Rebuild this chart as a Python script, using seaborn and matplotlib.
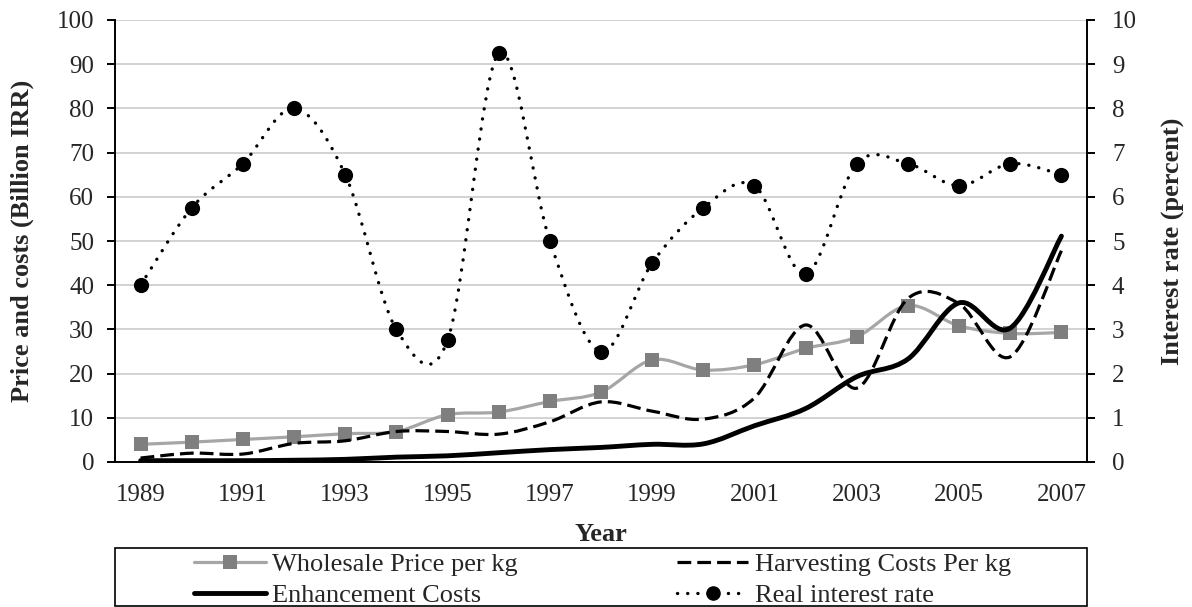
import numpy as np
import pandas as pd
import seaborn as sns
import matplotlib.pyplot as plt
from matplotlib.path import Path
from matplotlib.patches import PathPatch, Rectangle
from matplotlib.lines import Line2D

# data
years = [str(y) for y in range(1989, 2008)]
wholesale = [4.0, 4.5, 5.1, 5.7, 6.4, 6.9, 10.7, 11.3, 13.7, 15.8, 23.1, 20.8, 22.0, 25.7, 28.3, 35.4, 30.8, 29.1, 29.3]
harvest = [0.9, 2.0, 1.8, 4.2, 4.8, 6.9, 6.9, 6.3, 9.1, 13.6, 11.5, 9.7, 14.5, 31.0, 16.7, 37.0, 35.8, 23.8, 47.8]
enhance = [0.3, 0.3, 0.3, 0.4, 0.6, 1.1, 1.4, 2.1, 2.8, 3.3, 4.0, 4.1, 8.2, 12.1, 19.3, 23.3, 36.0, 30.3, 51.1]
interest = [4.0, 5.75, 6.75, 8.0, 6.5, 3.0, 2.75, 9.25, 5.0, 2.5, 4.5, 5.75, 6.25, 4.25, 6.75, 6.75, 6.25, 6.75, 6.5]

df = pd.DataFrame({'pos': np.arange(len(years)), 'year': years,
                   'wholesale': wholesale, 'harvest': harvest,
                   'enhance': enhance, 'interest': interest})

sns.set_style("white")
plt.rcParams['font.family'] = ['Liberation Serif', 'DejaVu Serif']
FS = 18      # tick labels
FS_LEG = 19  # legend
FS_LAB = 19  # axis titles


def smooth_path(xs, ys):
    # Excel style "smoothed line": cubic bezier segments through each point
    xs = list(xs)
    ys = list(ys)
    n = len(xs)
    verts = [(xs[0], ys[0])]
    codes = [Path.MOVETO]
    for i in range(n - 1):
        a = max(i - 1, 0)
        b = min(i + 2, n - 1)
        c1 = (xs[i] + (xs[i + 1] - xs[a]) / 6, ys[i] + (ys[i + 1] - ys[a]) / 6)
        c2 = (xs[i + 1] - (xs[b] - xs[i]) / 6, ys[i + 1] - (ys[b] - ys[i]) / 6)
        verts += [c1, c2, (xs[i + 1], ys[i + 1])]
        codes += [Path.CURVE4] * 3
    return Path(verts, codes)


fig = plt.figure(figsize=(11.92, 6.07), dpi=100)
ax = fig.add_axes([115 / 1192, 1 - 462 / 607, 972 / 1192, 442 / 607])
ax2 = ax.twinx()

grid_c = '#C6C6C6'
gray_line = '#A6A6A6'
gray_mark = '#7F7F7F'

# wholesale price (gray smoothed line + squares)
ax.add_patch(PathPatch(smooth_path(df.pos, df.wholesale), fill=False,
                       edgecolor=gray_line, lw=2.3, capstyle='round', zorder=3))
sns.scatterplot(data=df, x='pos', y='wholesale', marker='s', s=95, color=gray_mark,
                linewidth=0, ax=ax, zorder=4)

# harvesting costs (dashed)
ax.add_patch(PathPatch(smooth_path(df.pos, df.harvest), fill=False,
                       edgecolor='black', lw=2.3, linestyle=(0, (4.3, 1.9)), zorder=5))

# enhancement costs (thick solid)
ax.add_patch(PathPatch(smooth_path(df.pos, df.enhance), fill=False,
                       edgecolor='black', lw=3.5, capstyle='round', zorder=6))

# real interest rate on the right axis (dotted + circles)
ax2.add_patch(PathPatch(smooth_path(df.pos, df.interest), fill=False,
                        edgecolor='black', lw=2.4, linestyle=(0, (0.05, 3.0)),
                        capstyle='round', zorder=3))
sns.scatterplot(data=df, x='pos', y='interest', marker='o', s=120, color='black',
                linewidth=0, ax=ax2, zorder=4)

# axes
ax.set_xlim(-0.5, len(years) - 0.5)
ax.set_ylim(0, 100)
ax2.set_ylim(0, 10)
ax.set_yticks(np.arange(0, 101, 10))
ax2.set_yticks(np.arange(0, 11, 1))
ax.yaxis.grid(True, color=grid_c, lw=1.1)
ax.xaxis.grid(False)
ax.set_axisbelow(True)

ax.set_xticks(df.pos[::2])
ax.set_xticklabels(years[::2])
ax.set_xticks(np.arange(-0.5, len(years), 1), minor=True)
ax.tick_params(axis='x', which='major', length=0, labelsize=FS, pad=16)
ax.tick_params(axis='x', which='minor', length=6, width=1.4, direction='out', color='black')
ax.tick_params(axis='y', length=6, width=1.4, direction='out', labelsize=FS, color='black', pad=9)
ax2.tick_params(axis='y', length=6, width=1.4, direction='out', labelsize=FS, color='black', pad=12)

for a in (ax, ax2):
    for side in ('left', 'right', 'bottom'):
        a.spines[side].set_color('black')
        a.spines[side].set_linewidth(1.4)
    a.spines['top'].set_visible(False)
ax.spines['right'].set_visible(False)
ax2.spines['left'].set_visible(False)
ax2.spines['bottom'].set_visible(False)

ax.set_xlabel('Year', fontsize=FS_LAB, fontweight='bold', labelpad=12)
ax.set_ylabel('Price and costs (Billion IRR)', fontsize=FS_LAB, fontweight='bold', labelpad=16)
ax2.set_ylabel('Interest rate (percent)', fontsize=FS_LAB, fontweight='bold', labelpad=18)

# legend: boxed, two centered columns
h_w = Line2D([], [], color=gray_line, lw=2.3, marker='s', markersize=9.5,
             markerfacecolor=gray_mark, markeredgewidth=0)
h_h = Line2D([], [], color='black', lw=2.3, linestyle=(0, (4.3, 1.9)))
h_e = Line2D([], [], color='black', lw=3.5, solid_capstyle='round')
h_r = Line2D([], [], color='black', lw=2.4, linestyle=(0, (0.05, 3.0)),
             dash_capstyle='round', marker='o', markersize=10.5, markeredgewidth=0)

row_y = 1 - 580 / 607
leg_kw = dict(loc='center', frameon=False, fontsize=FS_LEG, handlelength=2.7,
              handletextpad=0.25, labelspacing=0.27, borderpad=0, borderaxespad=0)
fig.legend(handles=[h_w, h_e], labels=['Wholesale Price per kg', 'Enhancement Costs'],
           bbox_to_anchor=(356 / 1192, row_y), **leg_kw)
fig.legend(handles=[h_h, h_r], labels=['Harvesting Costs Per kg', 'Real interest rate'],
           bbox_to_anchor=(844 / 1192, row_y), **leg_kw)
fig.patches.append(Rectangle((115 / 1192, 1 / 607), 972 / 1192, 58 / 607,
                             transform=fig.transFigure, fill=False,
                             edgecolor='black', lw=1.2))

fig.savefig('out.png', dpi=100)
